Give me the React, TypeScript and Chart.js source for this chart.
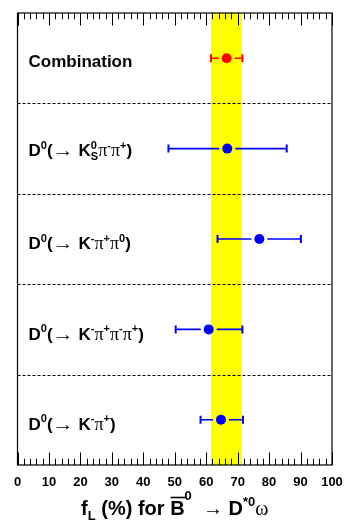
import React, { useEffect, useRef } from 'react';
import { Chart, registerables } from 'chart.js';
Chart.register(...registerables);

// ---- data ----
const categories = ['Combination', 'KsPiPi', 'KPiPi0', 'KPiPiPi', 'KPi'];
const fLValues = [66.5, 66.7, 76.9, 60.8, 64.7];
const errLow = [61.5, 48.0, 63.6, 50.3, 58.2];
const errHigh = [71.5, 85.6, 90.1, 71.5, 71.7];
const rowPos = [4.5, 3.5, 2.5, 1.5, 0.5];
const bandRange = [61.5, 71.3];
const separators = [1, 2, 3, 4];
const xTickLabels = ['0', '10', '20', '30', '40', '50', '60', '70', '80', '90', '100'];
const pointColors = ['#ff0000', '#0000ff', '#0000ff', '#0000ff', '#0000ff'];

const SANS = '"Liberation Sans", Arial, Helvetica, sans-serif';
const SERIF = '"Liberation Serif", "DejaVu Serif", serif';
const B17 = `bold 17px ${SANS}`;
const B11 = `bold 11px ${SANS}`;
const N17 = `17px ${SANS}`;
const S18 = `18px ${SERIF}`;

type Seg = { t: string; f: string; dy?: number; noAdv?: boolean; over?: boolean; sx?: number };

function segWidth(ctx: CanvasRenderingContext2D, segs: Seg[]) {
  let w = 0;
  for (const s of segs) {
    ctx.font = s.f;
    if (!s.noAdv) w += ctx.measureText(s.t).width * (s.sx || 1);
  }
  return w;
}

function drawRich(ctx: CanvasRenderingContext2D, x: number, y: number, segs: Seg[]) {
  let cx = x;
  ctx.textAlign = 'left';
  ctx.textBaseline = 'alphabetic';
  for (const s of segs) {
    ctx.font = s.f;
    const sx = s.sx || 1;
    const w = ctx.measureText(s.t).width * sx;
    if (sx !== 1) {
      ctx.save();
      ctx.translate(cx, y + (s.dy || 0));
      ctx.scale(sx, 1);
      ctx.fillText(s.t, 0, 0);
      ctx.restore();
    } else {
      ctx.fillText(s.t, cx, y + (s.dy || 0));
    }
    if (s.over) {
      ctx.save();
      ctx.lineWidth = 1.6;
      ctx.beginPath();
      ctx.moveTo(cx + 0.5, y - 17.5);
      ctx.lineTo(cx + w + 1, y - 17.5);
      ctx.stroke();
      ctx.restore();
    }
    if (!s.noAdv) cx += w;
  }
}

const sup = (t: string): Seg => ({ t, f: B11, dy: -7.5 });
const D0: Seg[] = [
  { t: 'D', f: B17 }, sup('0'), { t: '(', f: B17 },
  { t: '\u2192', f: N17, sx: 1.25 }, { t: ' ', f: N17 }, { t: 'K', f: B17 },
];

const rowLabels: { segs: Seg[]; dy: number }[] = [
  { segs: [{ t: 'Combination', f: B17 }], dy: 8.7 },
  {
    segs: [...D0, { t: '0', f: B11, dy: -7.5, noAdv: true }, { t: 'S', f: B11, dy: 4 },
      { t: '\u03c0', f: S18 }, sup('-'), { t: '\u03c0', f: S18 }, sup('+'), { t: ')', f: B17 }],
    dy: 7.7,
  },
  { segs: [...D0, sup('-'), { t: '\u03c0', f: S18 }, sup('+'), { t: '\u03c0', f: S18 }, sup('0'), { t: ')', f: B17 }], dy: 10 },
  {
    segs: [...D0, sup('-'), { t: '\u03c0', f: S18 }, sup('+'), { t: '\u03c0', f: S18 }, sup('-'),
      { t: '\u03c0', f: S18 }, sup('+'), { t: ')', f: B17 }],
    dy: 10.5,
  },
  { segs: [...D0, sup('-'), { t: '\u03c0', f: S18 }, sup('+'), { t: ')', f: B17 }], dy: 10 },
];

const T20 = `bold 20px ${SANS}`;
const T13 = `bold 13px ${SANS}`;
const titleSegs: Seg[] = [
  { t: 'f', f: T20 },
  { t: 'L', f: T13, dy: 5 },
  { t: ' (%) for ', f: T20 },
  { t: 'B', f: T20, over: true },
  { t: '0', f: T13, dy: -15 },
  { t: '  ', f: T20 },
  { t: '\u2192', f: `20px ${SANS}` },
  { t: ' D', f: T20 },
  { t: '*0', f: T13, dy: -9 },
  { t: '\u03c9', f: `20px ${SERIF}` },
];

const drawPlugin = {
  id: 'rootStyle',
  beforeDatasetsDraw(chart: any) {
    const { ctx, chartArea: a, scales } = chart;
    const xs = scales.x, ys = scales.y;
    ctx.save();
    // band
    ctx.fillStyle = '#ffff00';
    const bx0 = xs.getPixelForValue(bandRange[0]);
    const bx1 = xs.getPixelForValue(bandRange[1]);
    ctx.fillRect(bx0, a.top, bx1 - bx0, a.bottom - a.top);
    // separators
    ctx.strokeStyle = '#000';
    ctx.lineWidth = 1;
    ctx.setLineDash([3, 2]);
    for (const s of separators) {
      const y = Math.round(ys.getPixelForValue(s)) + 0.5;
      ctx.beginPath();
      ctx.moveTo(a.left, y);
      ctx.lineTo(a.right, y);
      ctx.stroke();
    }
    ctx.setLineDash([]);
    // error bars
    for (let i = 0; i < categories.length; i++) {
      const y = ys.getPixelForValue(rowPos[i]);
      const xc = xs.getPixelForValue(fLValues[i]);
      const xl = xs.getPixelForValue(errLow[i]);
      const xh = xs.getPixelForValue(errHigh[i]);
      ctx.strokeStyle = pointColors[i];
      ctx.lineWidth = 1.6;
      const gap = 8;
      ctx.beginPath();
      if (xc - gap > xl) { ctx.moveTo(xl, y); ctx.lineTo(xc - gap, y); }
      if (xc + gap < xh) { ctx.moveTo(xc + gap, y); ctx.lineTo(xh, y); }
      ctx.stroke();
      ctx.lineWidth = 2;
      ctx.beginPath();
      ctx.moveTo(xl, y - 4); ctx.lineTo(xl, y + 4);
      ctx.moveTo(xh, y - 4); ctx.lineTo(xh, y + 4);
      ctx.stroke();
    }
    ctx.restore();
  },
  afterDatasetsDraw(chart: any) {
    const { ctx, chartArea: a, scales } = chart;
    const xs = scales.x, ys = scales.y;
    ctx.save();
    ctx.strokeStyle = '#000';
    ctx.fillStyle = '#000';
    ctx.lineWidth = 1.2;
    ctx.strokeRect(a.left, a.top, a.right - a.left, a.bottom - a.top);
    ctx.lineWidth = 1;
    for (let v = 0; v <= 100; v += 2) {
      const x = Math.round(xs.getPixelForValue(v)) + 0.5;
      const len = v % 10 === 0 ? 12.5 : 6.3;
      ctx.beginPath();
      ctx.moveTo(x, a.top); ctx.lineTo(x, a.top + len);
      ctx.moveTo(x, a.bottom); ctx.lineTo(x, a.bottom - len);
      ctx.stroke();
    }
    // tick labels
    ctx.font = `bold 13px ${SANS}`;
    ctx.textAlign = 'center';
    ctx.textBaseline = 'alphabetic';
    xTickLabels.forEach((t) => {
      ctx.fillText(t, xs.getPixelForValue(Number(t)), a.bottom + 21);
    });
    // row labels
    rowLabels.forEach((r, i) => {
      drawRich(ctx, 28.5, ys.getPixelForValue(rowPos[i]) + r.dy, r.segs);
    });
    // title
    const w = segWidth(ctx, titleSegs);
    drawRich(ctx, (a.left + a.right) / 2 - w / 2, 515, titleSegs);
    ctx.restore();
  },
};

export default function App() {
  const ref = useRef<HTMLCanvasElement>(null);
  useEffect(() => {
    document.body.style.margin = '0';
    const chart = new Chart(ref.current!, {
      type: 'scatter',
      data: {
        datasets: [
          {
            data: fLValues.map((v, i) => ({ x: v, y: rowPos[i] })),
            pointRadius: 5,
            pointBackgroundColor: pointColors,
            pointBorderWidth: 0,
            pointHoverRadius: 5,
          },
        ],
      },
      options: {
        responsive: false,
        animation: false,
        devicePixelRatio: 1,
        layout: { padding: { left: 17.5, right: 12, top: 13, bottom: 57 } },
        plugins: { legend: { display: false }, tooltip: { enabled: false } },
        scales: {
          x: { type: 'linear', min: 0, max: 100, display: false },
          y: { type: 'linear', min: 0, max: 5, display: false },
        },
      },
      plugins: [drawPlugin],
    });
    return () => chart.destroy();
  }, []);
  return <canvas ref={ref} width={344} height={522} style={{ display: 'block' }} />;
}
